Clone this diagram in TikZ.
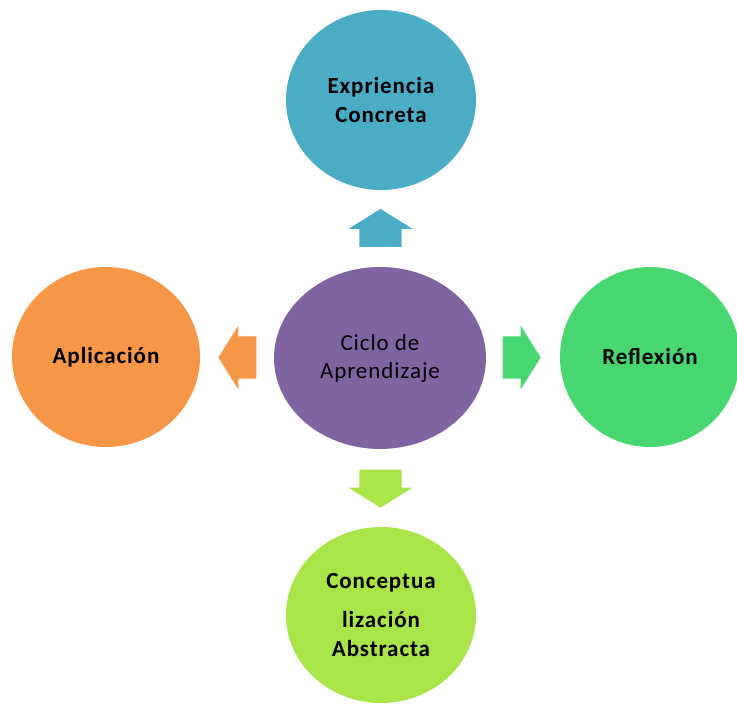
\documentclass[tikz,border=0pt]{standalone}
\usepackage{fontspec}
\setmainfont{Carlito}[LetterSpace=4]
\usetikzlibrary{shapes.geometric}
\usetikzlibrary{shapes.arrows}
\usetikzlibrary{calc}
\definecolor{azul}{HTML}{4BACC6}
\definecolor{naranja}{HTML}{F79646}
\definecolor{morado}{HTML}{8064A2}
\definecolor{verde}{HTML}{48D670}
\definecolor{lima}{HTML}{A9E549}
\tikzset{
    fase/.style={ellipse, inner sep=0pt, align=center, font=\fontsize{23}{29}\selectfont\bfseries},
    flecha/.style={single arrow, inner xsep=0pt, inner ysep=21pt, minimum height=38pt,
        single arrow head extend=11pt, single arrow tip angle=116},
}
\begin{document}
\begin{tikzpicture}[x=1pt, y=-1pt]
    \useasboundingbox (0,0) rectangle (737,704);
    % center of the cycle
    \node[fase, fill=morado, minimum width=212pt, minimum height=182pt, font=\fontsize{23}{28}\selectfont] (ciclo) at (380,358) {Ciclo de\\Aprendizaje};
    % phases around it
    \node[fase, fill=azul, minimum width=190pt, minimum height=180pt] (exp) at (381,100) {Expriencia\\Concreta};
    \node[fase, fill=naranja, minimum width=188pt, minimum height=180pt] (apl) at (106,357) {Aplicación};
    \node[fase, fill=verde, minimum width=180pt, minimum height=180pt] (ref) at (650,357) {Reflexión};
    \node[fase, fill=lima, minimum width=190pt, minimum height=176pt] (abs) at (381,615) {Conceptua\\[10pt]lización\\Abstracta};
    % arrows between the center and each phase
    \node[flecha, fill=azul, rotate=90] (aexp) at ($(ciclo.north)!0.5!(exp.south)+(0,6)$) {};
    \node[flecha, fill=naranja, rotate=180] (aapl) at ($(ciclo.west)!0.5!(apl.east)+(7,0)$) {};
    \node[flecha, fill=verde] (aref) at ($(ciclo.east)!0.5!(ref.west)+(-8,0)$) {};
    \node[flecha, fill=lima, rotate=-90] (aabs) at ($(ciclo.south)!0.5!(abs.north)+(0,-6)$) {};
\end{tikzpicture}
\end{document}
